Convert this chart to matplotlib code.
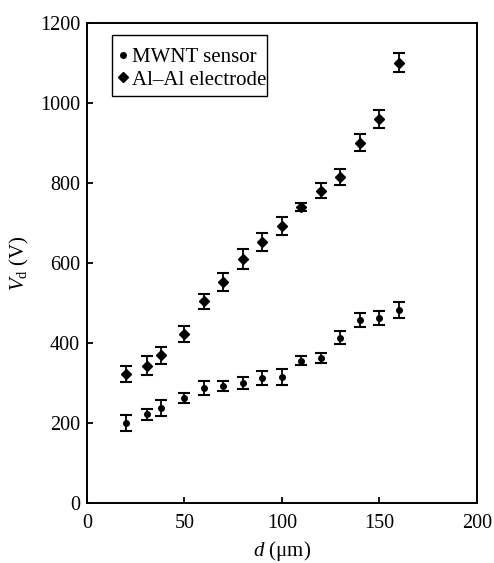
import numpy as np
import matplotlib
matplotlib.use("Agg")
import matplotlib.pyplot as plt
from matplotlib.patches import Rectangle

plt.rcParams['font.family'] = ['Liberation Serif', 'DejaVu Serif']
plt.rcParams['mathtext.fontset'] = 'custom'
plt.rcParams['mathtext.rm'] = 'Liberation Serif'
plt.rcParams['mathtext.it'] = 'Liberation Serif:italic'

# gap d (um)
d = [20, 31, 38, 50, 60, 70, 80, 90, 100, 110, 120, 130, 140, 150, 160]

# breakdown voltage (V) and error bars
vd_mwnt = [201, 222, 238, 263, 287, 293, 299, 312, 316, 356, 362, 413, 457, 462, 482]
err_mwnt = [20, 14, 20, 12, 17, 12, 15, 17, 20, 11, 13, 16, 18, 17, 20]

vd_al = [322, 343, 369, 423, 504, 552, 610, 652, 692, 740, 781, 815, 901, 960, 1101]
err_al = [20, 24, 21, 20, 19, 23, 25, 22, 23, 11, 19, 21, 21, 22, 23]

fig = plt.figure(figsize=(4.94, 5.63), dpi=100)
ax = fig.add_axes([0.176, 0.1066, 0.7896, 0.8524])

ax.errorbar(d, vd_mwnt, yerr=err_mwnt, fmt='o', color='black', ms=4,
            capsize=4, elinewidth=1.3, capthick=1.5, label='MWNT sensor')
ax.errorbar(d, vd_al, yerr=err_al, fmt='D', color='black', ms=5.5,
            capsize=4, elinewidth=1.3, capthick=1.5, label='Al\u2013Al electrode')

ax.set_xlim(0, 200)
ax.set_ylim(0, 1200)
ax.set_xticks([0, 50, 100, 150, 200])
ax.set_yticks([0, 200, 400, 600, 800, 1000, 1200])
ax.tick_params(direction='in', length=4, width=1.3, labelsize=14.5,
               top=False, right=False)
ax.tick_params(axis='x', pad=8)
ax.tick_params(axis='y', pad=5)
for s in ax.spines.values():
    s.set_linewidth(1.4)

ax.set_xlabel(r'$d$ ($\mathrm{\mu}$m)', fontsize=15, labelpad=4)
ax.set_ylabel(r'$V_\mathrm{d}$ (V)', fontsize=15, labelpad=6)

# legend markers without error bars; frame drawn separately (taller box)
h, l = ax.get_legend_handles_labels()
leg = ax.legend([hh[0] for hh in h], l, loc='upper left',
                bbox_to_anchor=(0.064, 0.9625), borderaxespad=0,
                fontsize=15, frameon=False,
                handlelength=0.5, handletextpad=0.15, borderpad=0.3,
                labelspacing=0.15)
ax.add_patch(Rectangle((0.064, 0.848), 0.397, 0.127, transform=ax.transAxes,
                       fill=False, edgecolor='black', linewidth=1.0, zorder=5))

fig.savefig('out.png', dpi=100)
